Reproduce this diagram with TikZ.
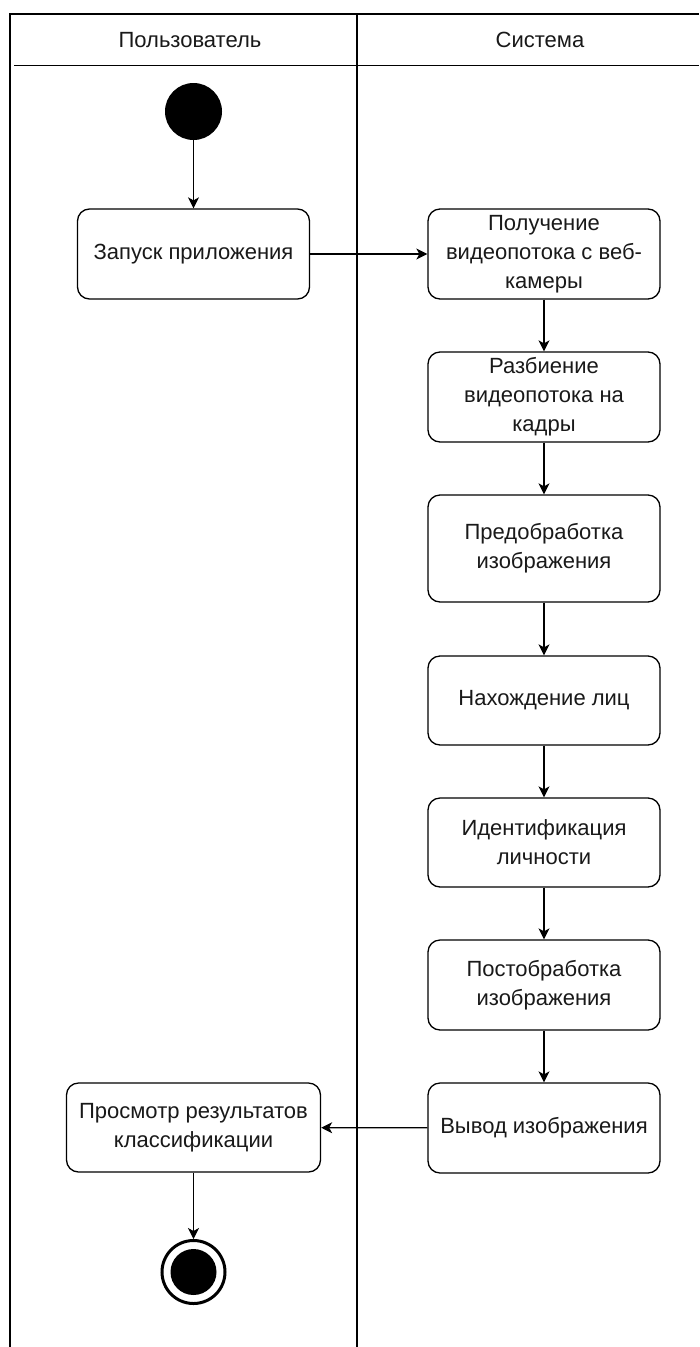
\documentclass[tikz,border=0pt]{standalone}
\usepackage{fontspec}
\setmainfont{Liberation Sans}
\usetikzlibrary{arrows.meta}
\begin{document}
\begin{tikzpicture}[x=1pt,y=-1pt,
  lane/.style={line width=1.4pt,draw=black},
  action/.style={draw=black,line width=1.3pt,rounded corners=12pt,
    minimum width=232pt,minimum height=90pt,align=center,
    font=\fontsize{22}{29}\selectfont,inner sep=0pt,text=black!90},
  hdr/.style={font=\fontsize{22}{26}\selectfont,inner sep=0pt,text=black!90},
  flow/.style={line width=1.3pt,-{Stealth[length=11pt,width=11pt,inset=3pt]}},
  startnode/.style={circle,fill=black,minimum size=57pt,inner sep=0pt},
  endnode/.style={circle,draw=black,line width=3pt,fill=white,minimum size=63pt,inner sep=0pt},
]
\useasboundingbox (0,0) rectangle (699,1347);
\fill[white] (0,0) rectangle (699,1347);

% swimlane frame
\draw[lane] (10,1347) -- (10,14) -- (699,14);
\draw[lane] (14,65.5) -- (699,65.5);
\draw[lane] (357,14) -- (357,1347);
\node[hdr] (hUser) at (190,40) {Пользователь};
\node[hdr] (hSys) at (540,40) {Система};

% user lane
\node[startnode] (start) at (193.5,111.5) {};
\node[action] (launch) at (193.5,254) {Запуск приложения};
\node[action,minimum width=254pt,minimum height=89pt] (view) at (193.5,1127.5) {Просмотр результатов\\классификации};
\node[endnode] (finish) at (193.5,1272) {};
\fill[black] (finish.center) circle (23pt);

% system lane
\node[action] (grab) at (544,254) {Получение\\видеопотока с веб-\\камеры};
\node[action] (split) at (544,397) {Разбиение\\видеопотока на\\кадры};
\node[action,minimum height=107pt] (pre) at (544,548.5) {Предобработка\\изображения};
\node[action,minimum height=89pt] (faces) at (544,700.5) {Нахождение лиц};
\node[action,minimum height=89pt] (ident) at (544,842.5) {Идентификация\\личности};
\node[action] (post) at (544,985) {Постобработка\\изображения};
\node[action] (out) at (544,1128) {Вывод изображения};

% control flow
\draw[flow] (start) -- (launch);
\draw[flow] (launch) -- (grab);
\draw[flow] (grab) -- (split);
\draw[flow] (split) -- (pre);
\draw[flow] (pre) -- (faces);
\draw[flow] (faces) -- (ident);
\draw[flow] (ident) -- (post);
\draw[flow] (post) -- (out);
\draw[flow] (out) -- (view);
\draw[flow] (view) -- (finish);
\end{tikzpicture}
\end{document}
